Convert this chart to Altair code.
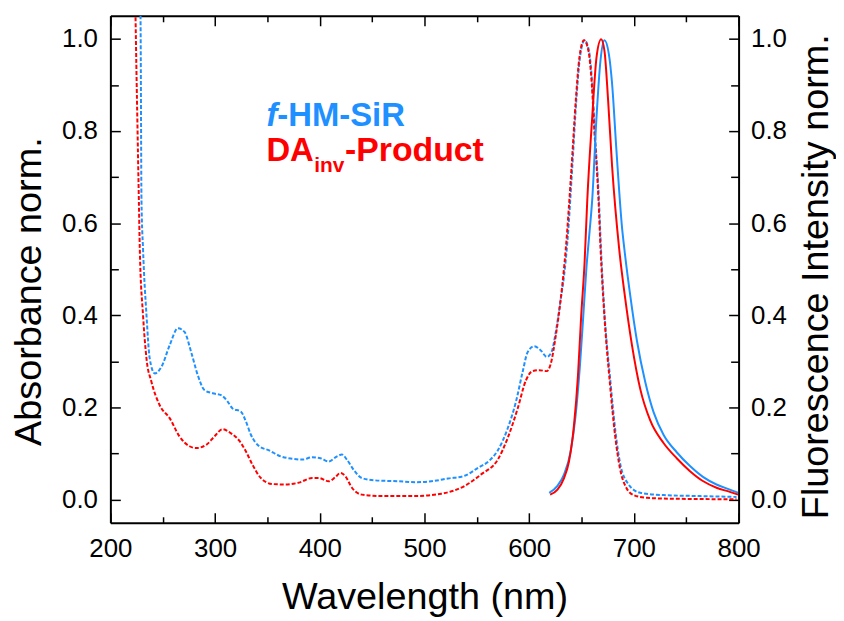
import altair as alt
import pandas as pd

# ---------------- data ----------------
abs_blue_nm = [226.0, 228.8, 229.7, 231.2, 234.5, 237.6, 242.4, 248.7, 256.6, 264.5,
               270.8, 277.2, 283.5, 289.8, 297.7, 305.7, 312.0, 316.7, 324.7, 329.4,
               334.2, 342.1, 351.6, 362.7, 373.7, 383.2, 392.7, 400.7, 408.5, 416.4,
               421.2, 425.9, 432.3, 440.2, 452.9, 475.0, 490.9, 506.6, 522.5, 538.4,
               551.0, 562.1, 570.0, 579.5, 587.4, 593.7, 598.5, 604.8, 611.1, 616.8,
               621.3, 625.4, 630.1, 633.3, 636.5, 641.2, 645.0, 648.5, 652.9, 657.1,
               660.2, 662.8, 666.6, 668.6, 671.5, 677.6, 682.4, 687.1, 695.0, 706.1,
               728.3, 760.0, 798.0]
abs_blue_val = [1.40, 1.05, 0.65, 0.543, 0.40, 0.306, 0.274, 0.288, 0.335, 0.372,
                0.364, 0.32, 0.27, 0.238, 0.231, 0.227, 0.213, 0.198, 0.191, 0.17,
                0.141, 0.116, 0.107, 0.094, 0.089, 0.087, 0.092, 0.09, 0.083, 0.094,
                0.098, 0.087, 0.065, 0.047, 0.042, 0.040, 0.038, 0.040, 0.046, 0.052,
                0.069, 0.085, 0.107, 0.155, 0.213, 0.277, 0.320, 0.333, 0.324, 0.310,
                0.320, 0.364, 0.435, 0.486, 0.560, 0.723, 0.866, 0.960, 0.997, 0.974,
                0.902, 0.795, 0.651, 0.543, 0.42, 0.256, 0.148, 0.076, 0.033, 0.015,
                0.010, 0.008, 0.006]

abs_red_nm = [221.0, 224.0, 227.2, 228.1, 231.2, 234.5, 239.2, 247.1, 256.6, 266.1,
              275.6, 281.9, 291.5, 299.3, 307.2, 315.2, 323.1, 329.4, 335.7, 343.7,
              354.7, 367.4, 380.0, 392.7, 399.0, 408.5, 414.9, 419.6, 424.4, 430.7,
              440.2, 459.2, 490.9, 516.1, 538.4, 554.1, 570.0, 579.5, 589.0, 596.9,
              603.2, 609.6, 616.8, 620.6, 625.4, 630.1, 634.9, 640.5, 644.5, 648.0,
              652.4, 656.6, 659.8, 662.4, 666.2, 668.2, 671.2, 677.2, 682.0, 686.7,
              693.0, 700.0, 712.5, 740.0, 798.0]
abs_red_val = [1.50, 1.05, 0.65, 0.543, 0.40, 0.306, 0.256, 0.205, 0.177, 0.137,
               0.116, 0.112, 0.119, 0.137, 0.153, 0.144, 0.128, 0.105, 0.076, 0.047,
               0.034, 0.033, 0.037, 0.047, 0.047, 0.040, 0.049, 0.058, 0.051, 0.026,
               0.011, 0.008, 0.008, 0.013, 0.030, 0.055, 0.087, 0.134, 0.198, 0.259,
               0.279, 0.281, 0.279, 0.295, 0.356, 0.435, 0.543, 0.723, 0.866, 0.960,
               0.997, 0.974, 0.902, 0.795, 0.651, 0.543, 0.42, 0.25, 0.140, 0.068,
               0.025, 0.010, 0.004, 0.002, 0.001]

em_blue_nm = [619.1, 627.0, 633.3, 639.6, 644.4, 648.5, 651.7, 654.8, 657.6, 660.2,
              664.3, 668.1, 671.9, 676.1, 679.2, 683.3, 688.7, 690.7, 696.7, 702.9,
              710.8, 718.8, 728.3, 740.9, 753.6, 766.3, 778.9, 791.6, 799.5]
em_blue_val = [0.015, 0.030, 0.055, 0.105, 0.184, 0.292, 0.400, 0.507, 0.580, 0.651,
               0.830, 0.953, 0.997, 0.967, 0.902, 0.759, 0.590, 0.548, 0.440, 0.345,
               0.256, 0.190, 0.141, 0.103, 0.073, 0.049, 0.033, 0.022, 0.015]

em_red_nm = [620.0, 627.0, 633.3, 638.0, 642.8, 646.6, 649.7, 652.9, 655.5, 660.2,
             664.3, 668.7, 671.9, 675.4, 679.2, 686.0, 691.5, 698.2, 706.1, 715.6,
             728.3, 740.9, 753.6, 766.3, 778.9, 791.6, 799.5]
em_red_val = [0.011, 0.022, 0.047, 0.083, 0.162, 0.270, 0.400, 0.514, 0.651, 0.830,
              0.960, 0.999, 0.974, 0.866, 0.723, 0.543, 0.440, 0.335, 0.240, 0.172,
              0.123, 0.090, 0.062, 0.040, 0.026, 0.017, 0.011]

x_ticks = [200, 250, 300, 350, 400, 450, 500, 550, 600, 650, 700, 750, 800]
y_ticks = [0.0, 0.1, 0.2, 0.3, 0.4, 0.5, 0.6, 0.7, 0.8, 0.9, 1.0]

legend_f = ["f"]
legend_hm = ["-HM-SiR"]
legend_da = ["DA"]
legend_inv = ["inv"]
legend_prod = ["-Product"]

# ---------------- styling ----------------
BLUE = "#1E90FF"
RED = "#FF0000"
FONT = "Liberation Sans"


def frame(nm, val):
    return pd.DataFrame({"nm": nm, "v": val})


xscale = alt.Scale(domain=[200, 800], nice=False, zero=False)
yscale = alt.Scale(domain=[-0.05, 1.05], nice=False, zero=False)

x_tick_size = alt.ExprRef(expr="datum.value % 100 === 0 ? -10 : -6")
y_tick_size = alt.ExprRef(expr="round(datum.value * 10) % 2 === 0 ? -10 : -8")
y_label_expr = "round(datum.value * 10) % 2 === 0 ? format(datum.value, '.1f') : ''"

x_bottom = alt.Axis(orient="bottom", values=x_ticks,
                    labelExpr="datum.value % 100 === 0 ? datum.label : ''",
                    tickSize=x_tick_size, labelPadding=23,
                    title="Wavelength (nm)", titlePadding=13)
x_top = alt.Axis(orient="top", values=x_ticks, labels=False, title=None,
                 tickSize=x_tick_size)
y_left = alt.Axis(orient="left", values=y_ticks, labelExpr=y_label_expr,
                  tickSize=y_tick_size, labelPadding=23,
                  title="Absorbance norm.", titlePadding=13, titleY=277)
y_right = alt.Axis(orient="right", values=y_ticks, labelExpr=y_label_expr,
                   tickSize=y_tick_size, labelPadding=22,
                   title="Fluorescence Intensity norm.", titleAngle=270,
                   titleBaseline="top", titlePadding=11, titleY=262)


def line(nm, val, color, axis_x, axis_y, dashed):
    kw = dict(color=color, strokeWidth=2, clip=True, interpolate="monotone")
    if dashed:
        kw["strokeDash"] = [4, 2]
    return alt.Chart(frame(nm, val)).mark_line(**kw).encode(
        x=alt.X("nm:Q", scale=xscale, axis=axis_x),
        y=alt.Y("v:Q", scale=yscale, axis=axis_y),
    )


def label(txt, color, px, py, size, style="normal"):
    return alt.Chart(pd.DataFrame({"t": txt})).mark_text(
        align="left", baseline="alphabetic", font=FONT, fontSize=size,
        fontWeight="bold", fontStyle=style, color=color,
    ).encode(text="t:N", x=alt.value(px), y=alt.value(py))


abs_layer = alt.layer(
    line(abs_blue_nm, abs_blue_val, BLUE, x_bottom, y_left, True),
    line(abs_red_nm, abs_red_val, RED, x_bottom, y_left, True),
    label(legend_f, BLUE, 157, 111, 33, "italic"),
    label(legend_hm, BLUE, 168, 111, 33),
    label(legend_da, RED, 157, 146, 33),
    label(legend_inv, RED, 205, 157, 21),
    label(legend_prod, RED, 236, 146, 34),
)

em_layer = alt.layer(
    line(em_blue_nm, em_blue_val, BLUE, x_top, y_right, False),
    line(em_red_nm, em_red_val, RED, x_top, y_right, False),
)

chart = (
    alt.layer(abs_layer, em_layer)
    .resolve_scale(y="independent")
    .resolve_axis(x="independent", y="independent")
    .properties(width=632, height=510,
                padding={"left": 2, "top": 5, "right": 0, "bottom": 5})
    .configure_view(stroke=None)
    .configure_axis(domainColor="black", domainWidth=2, tickColor="black",
                    tickWidth=1.5, labelFont=FONT, labelFontSize=26,
                    labelColor="black", titleFont=FONT, titleFontSize=38,
                    titleFontWeight="normal", titleColor="black", grid=False,
                    labelFlush=False, labelOverlap=False)
)

chart.save("out.html", embed_options={"renderer": "svg", "actions": False})
